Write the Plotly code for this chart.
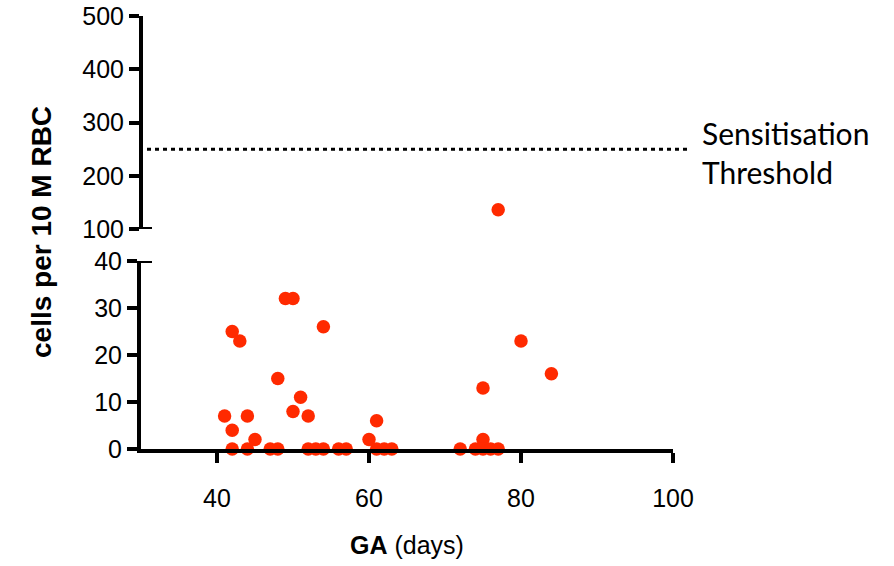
import plotly.graph_objects as go

# ---- data ----
ga_days = [41, 42, 42, 42, 43, 44, 44, 45, 47, 48, 48, 49, 50, 50, 51, 52, 52, 53,
           54, 54, 56, 57, 60, 61, 61, 62, 63, 72, 74, 75, 75, 75, 76, 77, 80, 84, 77]
cells = [7, 4, 0, 25, 23, 7, 0, 2, 0, 0, 15, 32, 32, 8, 11, 7, 0, 0,
         0, 26, 0, 0, 2, 6, 0, 0, 0, 0, 0, 2, 0, 13, 0, 0, 23, 16, 136]
threshold = 250
threshold_label = "Sensitisation<br>Threshold"
x_ticks = [40, 60, 80, 100]
y_low_ticks = [0, 10, 20, 30, 40]
y_high_ticks = [100, 200, 300, 400, 500]

W, H = 894, 566
RED = "#FF2A00"
TICKFONT = dict(family="Liberation Sans, Arial", size=25, color="black")

low_x = [x for x, y in zip(ga_days, cells) if y <= 40]
low_y = [y for y in cells if y <= 40]
high_x = [x for x, y in zip(ga_days, cells) if y >= 100]
high_y = [y for y in cells if y >= 100]

fig = go.Figure()
mk = dict(color=RED, size=13.5, line=dict(width=0))
fig.add_trace(go.Scatter(x=low_x, y=low_y, mode="markers", marker=mk,
                         xaxis="x", yaxis="y", cliponaxis=False, showlegend=False))
fig.add_trace(go.Scatter(x=high_x, y=high_y, mode="markers", marker=mk,
                         xaxis="x", yaxis="y2", cliponaxis=False, showlegend=False))

xd = [141 / W, 673 / W]
yd_low = [1 - 449 / H, 1 - 261 / H]
yd_high = [1 - 229 / H, 1 - 16 / H]

axis_common = dict(showgrid=False, zeroline=False, showline=True, linecolor="black",
                   linewidth=4, ticks="outside", ticklen=10, tickwidth=4,
                   tickcolor="black", tickfont=TICKFONT, automargin=False)

fig.update_layout(
    width=W, height=H,
    margin=dict(l=0, r=0, t=0, b=0),
    plot_bgcolor="white", paper_bgcolor="white",
    xaxis=dict(domain=xd, range=[30, 100], tickvals=x_ticks, anchor="y",
               ticklabelstandoff=14, **axis_common),
    yaxis=dict(domain=yd_low, range=[0, 40], tickvals=y_low_ticks, anchor="x",
               **axis_common),
    yaxis2=dict(domain=yd_high, range=[100, 500], tickvals=y_high_ticks, anchor="free",
                position=xd[0], **axis_common),
)

# threshold dotted line
fig.add_shape(type="line", xref="paper", yref="y2", x0=147 / W, x1=690 / W,
              y0=threshold, y1=threshold, line=dict(color="black", width=3, dash="4px,4px"))
# axis-break caps
fig.add_shape(type="line", xref="paper", yref="y2", x0=139 / W, x1=152 / W,
              y0=100, y1=100, line=dict(color="black", width=4))
fig.add_shape(type="line", xref="paper", yref="y", x0=139 / W, x1=152 / W,
              y0=40, y1=40, line=dict(color="black", width=4))

fig.add_annotation(text=threshold_label, xref="paper", yref="paper",
                   x=700 / W, y=1 - 152 / H, xanchor="left", yanchor="middle",
                   align="left", showarrow=False,
                   font=dict(family="Lato, Open Sans", size=30, color="black"))
fig.add_annotation(text="<b>cells per 10 M RBC</b>", xref="paper", yref="paper",
                   x=41 / W, y=1 - 232 / H, textangle=-90, showarrow=False,
                   xanchor="center", yanchor="middle",
                   font=dict(family="Liberation Sans, Arial", size=28, color="black"))
fig.add_annotation(text="<b>GA</b> (days)", xref="paper", yref="paper",
                   x=407 / W, y=1 - 545 / H, showarrow=False,
                   xanchor="center", yanchor="middle",
                   font=dict(family="Liberation Sans, Arial", size=25, color="black"))

fig.write_html("out.html", config={"displayModeBar": False},
               post_script="document.body.style.margin='0';")
